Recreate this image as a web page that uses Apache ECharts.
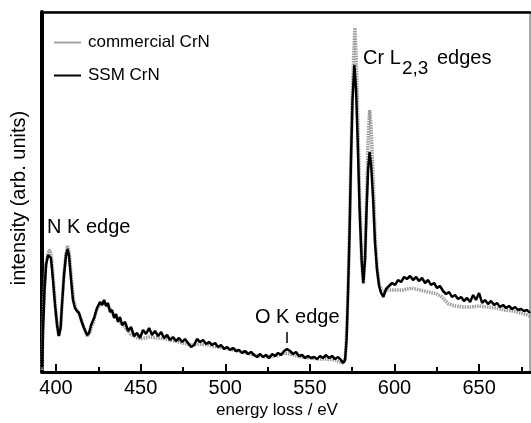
<!DOCTYPE html>
<html>
<head>
<meta charset="utf-8">
<script src="https://cdn.jsdelivr.net/npm/echarts@6/dist/echarts.min.js"></script>
<style>
  html, body { margin: 0; padding: 0; background: #fff; }
  #main { width: 531px; height: 423px; }
</style>
</head>
<body>
<div id="main"></div>
<script>
// energy loss (eV) / intensity (arb. units)
var ssmEnergy = [391.8, 392.3, 393.2, 394.1, 395.3, 396.3, 397.0, 398.2, 399.4, 400.6, 401.6, 402.7, 403.5, 404.7, 405.9, 406.8, 407.7, 408.9, 410.0, 411.2, 412.4, 413.6, 414.8, 416.5, 418.3, 419.5, 420.7, 422.5, 424.2, 426.0, 427.2, 428.4, 429.6, 430.7, 431.9, 433.1, 434.3, 435.5, 436.6, 437.8, 439.0, 440.8, 442.6, 444.3, 446.1, 447.9, 449.6, 451.4, 453.2, 455.0, 456.7, 458.5, 460.3, 462.1, 463.8, 465.6, 467.4, 469.1, 470.9, 472.7, 474.5, 476.2, 478.0, 479.8, 481.6, 483.3, 485.1, 486.9, 488.7, 490.4, 492.2, 494.0, 495.7, 497.5, 499.3, 501.1, 502.8, 504.6, 506.4, 508.2, 509.9, 511.7, 513.5, 515.2, 517.0, 518.8, 520.6, 522.3, 524.1, 525.9, 527.7, 529.4, 531.2, 533.0, 534.8, 536.5, 538.3, 540.1, 541.8, 543.6, 545.4, 547.2, 548.9, 550.7, 552.5, 554.3, 556.0, 557.8, 559.6, 561.3, 563.1, 564.9, 566.7, 568.4, 569.6, 570.8, 571.7, 572.6, 573.5, 574.3, 575.2, 576.3, 577.3, 578.3, 579.4, 580.6, 581.6, 582.6, 583.5, 584.4, 585.3, 586.2, 587.4, 588.5, 589.7, 590.9, 592.1, 593.4, 595.0, 596.8, 598.6, 600.4, 602.1, 603.9, 605.7, 607.4, 609.2, 611.0, 612.8, 614.5, 616.3, 618.1, 619.9, 621.6, 623.4, 625.2, 626.9, 628.7, 630.5, 632.3, 634.0, 635.8, 637.6, 639.4, 641.1, 642.9, 644.7, 646.5, 648.2, 650.0, 651.8, 653.5, 655.3, 657.1, 658.9, 660.6, 662.4, 664.2, 666.0, 667.7, 669.5, 671.3, 673.0, 674.8, 676.6, 678.4, 680.1];
var ssmIntensity = [5, 42, 82, 107, 117, 119, 114, 92, 67, 47, 36, 44, 67, 97, 117, 123, 116, 92, 72, 64, 61, 59, 52, 44, 37, 39, 47, 54, 64, 70, 67, 72, 66, 69, 60, 62, 54, 58, 50, 55, 47, 50, 41, 45, 36, 39, 34, 42, 38, 44, 37, 41, 36, 40, 34, 37, 32, 35, 31, 34, 30, 33, 29, 25, 27, 33, 30, 32, 28, 30, 27, 29, 25, 27, 23, 25, 22, 24, 21, 22, 19, 21, 18, 20, 17, 15, 18, 15, 17, 14, 18, 16, 19, 17, 21, 23, 21, 18, 20, 16, 17, 14, 16, 14, 15, 13, 16, 14, 17, 14, 16, 13, 15, 12, 9, 12, 32, 82, 142, 212, 272, 307, 282, 229, 162, 112, 89, 112, 162, 202, 220, 207, 172, 129, 102, 86, 79, 75, 83, 86, 89, 87, 92, 90, 95, 93, 96, 92, 95, 91, 94, 89, 92, 87, 89, 84, 86, 81, 78, 80, 75, 77, 73, 75, 71, 74, 70, 77, 72, 79, 69, 72, 68, 71, 67, 69, 65, 67, 64, 66, 63, 65, 62, 63, 61, 62, 59];

var comEnergy = [391.8, 392.2, 393.0, 394.0, 395.2, 396.3, 397.1, 398.3, 399.5, 400.7, 401.7, 402.8, 403.6, 404.8, 406.0, 406.9, 407.8, 409.0, 410.2, 411.5, 413, 415, 417, 418.5, 420, 422, 424, 426, 428, 430, 432, 435, 438, 441, 444, 447, 450, 455, 460, 465, 470, 475, 480, 485, 490, 495, 500, 505, 510, 515, 520, 525, 530, 535, 538, 545, 550, 555, 560, 565, 568, 570, 571, 572, 573, 574, 575, 576, 576.6, 577.5, 578.5, 579.5, 580.6, 581.6, 582.6, 583.5, 584.4, 585.3, 586.2, 587.4, 588.5, 589.7, 591, 592.5, 594, 596, 598, 600, 605, 610, 615, 620, 625, 628, 632, 636, 640, 645, 650, 655, 660, 665, 670, 675, 680];
var comIntensity = [2, 40, 80, 108, 119, 122, 117, 95, 68, 46, 36, 46, 70, 100, 120, 126, 119, 95, 74, 64, 60, 52, 42, 36, 40, 50, 62, 68, 69, 67, 63, 55, 50, 44, 38, 35, 33, 35, 34, 33, 31, 29, 27, 28, 27, 25, 24, 22, 20, 18, 16, 15, 16, 19, 18, 15, 14, 13, 13, 12, 10, 9, 15, 50, 110, 190, 270, 320, 344, 310, 240, 170, 110, 88, 115, 170, 230, 262, 245, 195, 140, 105, 88, 82, 80, 82, 82, 82, 82, 84, 82, 80, 78, 75, 68, 66, 65, 65, 66, 65, 64, 62, 61, 59, 56];

var majorTicks = [400, 450, 500, 550, 600, 650];
var minorTicks = [425, 475, 525, 575, 625, 675];

function pairs(xs, ys) {
    return xs.map(function (x, i) { return [x, ys[i]]; });
}

var FONT = "'Liberation Sans', Arial, sans-serif";
var myChart = echarts.init(document.getElementById('main'));

var option = {
    animation: false,
    backgroundColor: '#fff',
    grid: {
        left: 42, right: 1, top: 12, bottom: 51,
        show: true, borderColor: '#555', borderWidth: 1
    },
    legend: {
        orient: 'vertical',
        left: 49, top: 29,
        icon: 'rect',
        itemWidth: 27, itemHeight: 2, itemGap: 16,
        textStyle: { fontFamily: FONT, fontSize: 17, color: '#000', padding: [0, 0, 0, 2] },
        data: [
            { name: 'commercial CrN', itemStyle: { color: '#a5a5a5' } },
            { name: 'SSM CrN', itemStyle: { color: '#000' } }
        ]
    },
    xAxis: [{
        type: 'value',
        min: 391.7, max: 680.1,
        axisLine: { show: true, onZero: false, lineStyle: { color: '#000', width: 3 } },
        axisTick: { show: true, inside: true, length: 8, customValues: majorTicks,
                    lineStyle: { color: '#000', width: 2 } },
        axisLabel: { customValues: majorTicks, margin: 6, color: '#000',
                     fontFamily: FONT, fontSize: 20 },
        splitLine: { show: false }
    }, {
        // minor ticks
        type: 'value', position: 'bottom',
        min: 391.7, max: 680.1,
        axisLine: { show: false },
        axisTick: { show: true, inside: true, length: 5, customValues: minorTicks,
                    lineStyle: { color: '#000', width: 2 } },
        axisLabel: { show: false },
        splitLine: { show: false }
    }, {
        // heavy top frame
        type: 'value', position: 'top',
        min: 391.7, max: 680.1,
        axisLine: { show: true, lineStyle: { color: '#000', width: 2.5 } },
        axisTick: { show: false },
        axisLabel: { show: false },
        splitLine: { show: false }
    }],
    yAxis: {
        type: 'value',
        min: 0, max: 360,
        axisLine: { show: true, onZero: false, lineStyle: { color: '#000', width: 4 } },
        axisTick: { show: false },
        axisLabel: { show: false },
        splitLine: { show: false }
    },
    series: [{
        name: 'commercial CrN',
        type: 'line',
        symbol: 'none',
        data: pairs(comEnergy, comIntensity),
        lineStyle: { color: '#9a9a9a', width: 3.5, type: [1.5, 1] },
        itemStyle: { color: '#9a9a9a' }
    }, {
        name: 'SSM CrN',
        type: 'line',
        symbol: 'none',
        data: pairs(ssmEnergy, ssmIntensity),
        lineStyle: { color: '#000', width: 2.5 },
        itemStyle: { color: '#000' }
    }],
    graphic: [
        { type: 'text', x: 277, y: 410,
          style: { text: 'energy loss / eV', font: '17px ' + FONT, fill: '#000',
                   textAlign: 'center', textVerticalAlign: 'middle' } },
        { type: 'text', x: 19, y: 198, rotation: Math.PI / 2,
          style: { text: 'intensity (arb. units)', font: '20px ' + FONT, fill: '#000',
                   textAlign: 'center', textVerticalAlign: 'middle' } },
        { type: 'text', x: 47, y: 227,
          style: { text: 'N K edge', font: '20px ' + FONT, fill: '#000',
                   textAlign: 'left', textVerticalAlign: 'middle' } },
        { type: 'text', x: 255, y: 317,
          style: { text: 'O K edge', font: '20px ' + FONT, fill: '#000',
                   textAlign: 'left', textVerticalAlign: 'middle' } },
        { type: 'line', shape: { x1: 287, y1: 332, x2: 287, y2: 343 },
          style: { stroke: '#000', lineWidth: 1.5 } },
        { type: 'text', x: 363, y: 58,
          style: { text: 'Cr L', font: '20px ' + FONT, fill: '#000',
                   textAlign: 'left', textVerticalAlign: 'middle' } },
        { type: 'text', x: 402, y: 69,
          style: { text: '2,3', font: '19px ' + FONT, fill: '#000',
                   textAlign: 'left', textVerticalAlign: 'middle' } },
        { type: 'text', x: 437, y: 58,
          style: { text: 'edges', font: '20px ' + FONT, fill: '#000',
                   textAlign: 'left', textVerticalAlign: 'middle' } }
    ]
};

myChart.setOption(option);
</script>
</body>
</html>
